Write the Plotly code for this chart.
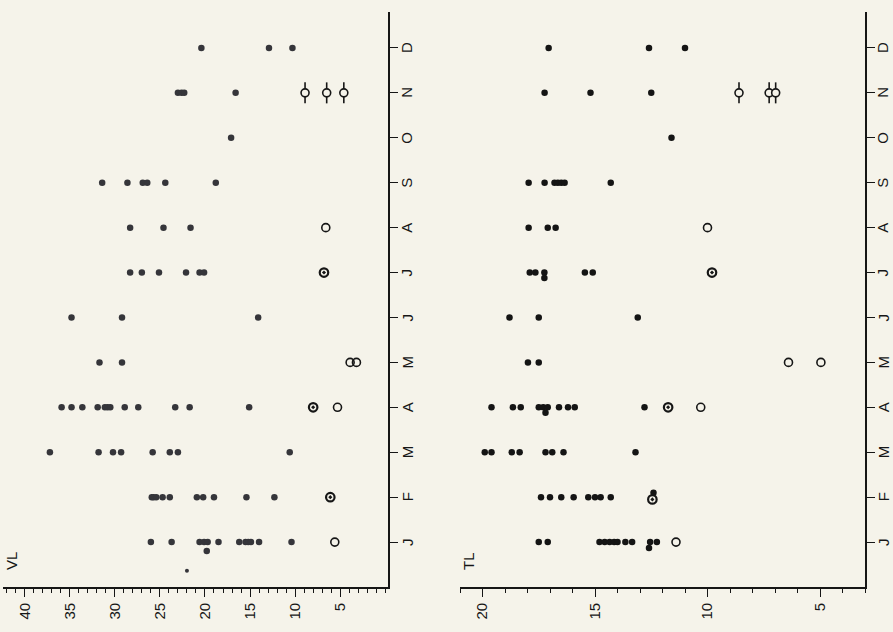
import plotly.graph_objects as go

W, H = 893, 632
month_labels = ["J", "F", "M", "A", "M", "J", "J", "A", "S", "O", "N", "D"]
month_pos = list(range(1, 13))

# ---------------- VL panel ----------------
vl_dot_month = (
    [1]*12 + [0.8] +
    [2]*10 +
    [3]*8 +
    [4]*12 +
    [5]*2 +
    [6]*3 +
    [7]*6 +
    [8]*3 +
    [9]*6 +
    [10] +
    [11]*4 +
    [12]*3
)
vl_dot_value = (
    [26.0, 23.7, 20.6, 20.1, 19.7, 18.5, 16.2, 15.5, 15.2, 14.9, 14.0, 10.4, 19.8] +
    [25.9, 25.7, 25.4, 24.7, 23.9, 20.9, 20.2, 19.0, 15.4, 12.3] +
    [37.2, 31.8, 30.2, 29.3, 25.8, 23.9, 23.0, 10.6] +
    [35.9, 34.8, 33.6, 31.9, 31.1, 30.8, 30.5, 28.9, 27.4, 23.3, 21.7, 15.1] +
    [31.7, 29.2] +
    [34.8, 29.2, 14.1] +
    [28.3, 27.0, 25.1, 22.1, 20.6, 20.1] +
    [28.3, 24.6, 21.6] +
    [31.4, 28.6, 26.9, 26.4, 24.4, 18.8] +
    [17.1] +
    [23.0, 22.6, 22.3, 16.6] +
    [20.4, 12.9, 10.3]
)
vl_open_month = [1, 4, 5, 5, 8]
vl_open_value = [5.6, 5.3, 3.9, 3.2, 6.6]
vl_half_month = [2, 4, 7]
vl_half_value = [6.1, 8.0, 6.8]
vl_bar_month = [11, 11, 11]
vl_bar_value = [8.9, 6.5, 4.6]
vl_small_month = [0.36]
vl_small_value = [22.0]

# ---------------- TL panel ----------------
tl_dot_month = (
    [1]*11 + [0.87] +
    [2]*8 + [2.1] +
    [3]*8 +
    [4]*10 + [3.88] +
    [5]*2 +
    [6]*3 +
    [7]*5 + [6.88] +
    [8]*3 +
    [9]*7 +
    [10] +
    [11]*3 +
    [12]*3
)
tl_dot_value = (
    [17.5, 17.1, 14.8, 14.57, 14.35, 14.15, 14.0, 13.65, 13.35, 12.55, 12.25, 12.6] +
    [17.4, 17.0, 16.5, 15.95, 15.3, 15.0, 14.75, 14.3, 12.4] +
    [19.9, 19.6, 18.7, 18.35, 17.2, 16.9, 16.4, 13.2] +
    [19.6, 18.65, 18.3, 17.5, 17.3, 17.1, 16.6, 16.2, 15.9, 12.8, 17.2] +
    [17.98, 17.5] +
    [18.8, 17.5, 13.1] +
    [17.9, 17.65, 17.25, 15.45, 15.1, 17.25] +
    [17.95, 17.1, 16.75] +
    [17.95, 17.24, 16.8, 16.65, 16.5, 16.35, 14.3] +
    [11.6] +
    [17.24, 15.2, 12.5] +
    [17.06, 12.6, 11.0]
)
tl_open_month = [1, 4, 5, 5, 8]
tl_open_value = [11.4, 10.3, 6.4, 4.96, 10.0]
tl_half_month = [1.95, 4, 7]
tl_half_value = [12.45, 11.75, 9.8]
tl_bar_month = [11, 11, 11]
tl_bar_value = [8.6, 7.26, 6.97]

BG = "#f5f3ea"
INK = "#161616"

fig = go.Figure()


def add_panel(xa, ya, dm, dv, om, ov, hm, hv, bm, bv, dotcol):
    fig.add_trace(go.Scatter(x=dv, y=dm, mode="markers", xaxis=xa, yaxis=ya,
                             marker=dict(symbol="circle", size=6.5, color=dotcol, line=dict(width=0)),
                             showlegend=False, hoverinfo="skip"))
    fig.add_trace(go.Scatter(x=ov, y=om, mode="markers", xaxis=xa, yaxis=ya,
                             marker=dict(symbol="circle-open", size=8, color=INK, line=dict(width=1.6)),
                             showlegend=False, hoverinfo="skip"))
    fig.add_trace(go.Scatter(x=hv, y=hm, mode="markers", xaxis=xa, yaxis=ya,
                             marker=dict(symbol="circle-open-dot", size=8.5, color=INK, line=dict(width=2.2)),
                             showlegend=False, hoverinfo="skip"))
    fig.add_trace(go.Scatter(x=bv, y=bm, mode="markers", xaxis=xa, yaxis=ya,
                             marker=dict(symbol="line-ns-open", size=15, color=INK, line=dict(width=1.6, color=INK)),
                             showlegend=False, hoverinfo="skip"))
    fig.add_trace(go.Scatter(x=bv, y=bm, mode="markers", xaxis=xa, yaxis=ya,
                             marker=dict(symbol="circle", size=8, color=BG, line=dict(width=1.6, color=INK)),
                             showlegend=False, hoverinfo="skip"))


add_panel("x", "y", vl_dot_month, vl_dot_value, vl_open_month, vl_open_value,
          vl_half_month, vl_half_value, vl_bar_month, vl_bar_value, "#35353a")
fig.add_trace(go.Scatter(x=vl_small_value, y=vl_small_month, mode="markers",
                         marker=dict(symbol="circle", size=4, color="#35353a"),
                         showlegend=False, hoverinfo="skip"))
add_panel("x2", "y2", tl_dot_month, tl_dot_value, tl_open_month, tl_open_value,
          tl_half_month, tl_half_value, tl_bar_month, tl_bar_value, "#141414")

FONT = "Liberation Sans, Arial, sans-serif"
tickfont = dict(family=FONT, size=15, color=INK)

ydom = [(H - 587) / H, (H - 12) / H]


def xaxis_cfg(dom, rng, vals, anchor):
    return dict(domain=dom, range=rng, anchor=anchor, showline=True, linecolor=INK, linewidth=1.6,
                ticks="outside", ticklen=8, tickwidth=1.3, tickcolor=INK,
                tickvals=vals, ticktext=[str(v) for v in vals], tickangle=-90,
                tickfont=tickfont, showgrid=False, zeroline=False,
                minor=dict(dtick=1, tick0=0, ticks="outside", ticklen=4, tickwidth=1,
                           tickcolor=INK, showgrid=False))


def yaxis_cfg(anchor):
    return dict(domain=ydom, range=[0, 12.8], side="right", anchor=anchor,
                showline=True, linecolor=INK, linewidth=1.6,
                ticks="outside", ticklen=8, tickwidth=1.3, tickcolor=INK,
                tickvals=month_pos, showticklabels=False,
                showgrid=False, zeroline=False)


annotations = [
    dict(text="VL", x=11 / W, y=(H - 561) / H, xref="paper", yref="paper",
         xanchor="center", yanchor="middle", showarrow=False, textangle=-90, font=tickfont),
    dict(text="TL", x=468 / W, y=(H - 561) / H, xref="paper", yref="paper",
         xanchor="center", yanchor="middle", showarrow=False, textangle=-90, font=tickfont),
]
# month labels to the right of each vertical axis
for yref, xpix in (("y", 407), ("y2", 883)):
    for pos, lab in zip(month_pos, month_labels):
        annotations.append(dict(text=lab, x=xpix / W, y=pos, xref="paper", yref=yref,
                                xanchor="center", yanchor="middle", showarrow=False,
                                textangle=-90, font=tickfont))

fig.update_layout(
    width=W, height=H,
    margin=dict(l=0, r=0, t=0, b=0),
    paper_bgcolor=BG, plot_bgcolor=BG,
    xaxis=xaxis_cfg([3 / W, 388 / W], [42.4, -0.3], [5, 10, 15, 20, 25, 30, 35, 40], "y"),
    yaxis=yaxis_cfg("x"),
    xaxis2=xaxis_cfg([460 / W, 865 / W], [21.0, 3.0], [5, 10, 15, 20], "y2"),
    yaxis2=yaxis_cfg("x2"),
    annotations=annotations,
)

fig.write_html(
    "out.html",
    config={"displayModeBar": False},
    post_script=("document.body.style.margin='0';"
                 "document.body.style.padding='0';"
                 "document.body.style.background='" + BG + "';"
                 "document.documentElement.style.overflow='hidden';"),
)
